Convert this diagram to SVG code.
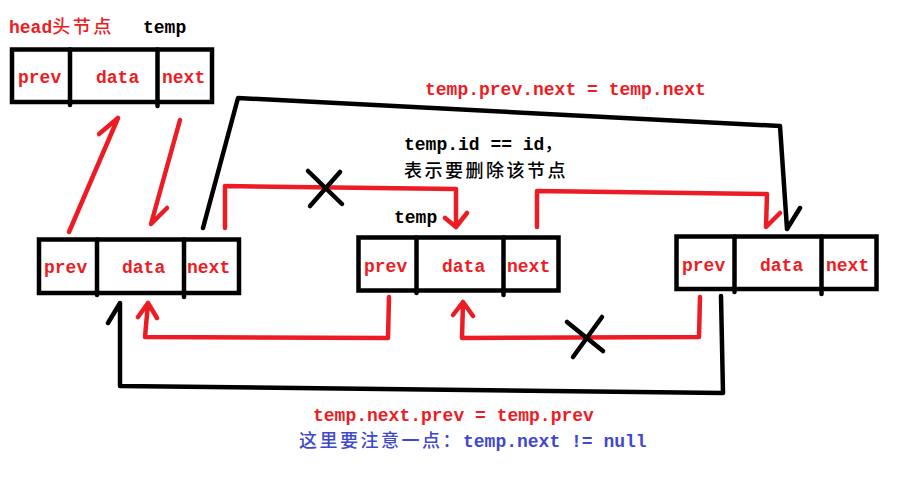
<svg xmlns="http://www.w3.org/2000/svg" width="901" height="479" viewBox="0 0 901 479">
<style>
.box{fill:#fff;stroke:#000;stroke-width:4.5}
.div{stroke:#000;stroke-width:4.5;stroke-linecap:round}
.t{font-family:"Liberation Mono","Noto Sans CJK SC",monospace;font-size:18px;font-weight:bold}
.cjk{font-family:"Noto Sans CJK SC","Liberation Mono",sans-serif;font-size:18px;font-weight:500;letter-spacing:2.5px}
.red{fill:#ed1c24}
.blk{fill:#000}
.blu{fill:#3f48cc}
.r{fill:none;stroke:#ed1c24;stroke-width:4.5;stroke-linecap:round;stroke-linejoin:round}
.k{fill:none;stroke:#000;stroke-width:4.5;stroke-linecap:round;stroke-linejoin:round}
</style>
<rect width="901" height="479" fill="#fff"/>

<g id="head-node">
<rect class="box" x="12" y="49.5" width="200" height="52.5"/>
<line class="div" x1="70" y1="49.5" x2="70" y2="105"/>
<line class="div" x1="157.5" y1="49.5" x2="157.5" y2="106"/>
<text class="t red" x="18" y="83">prev</text>
<text class="t red" x="96" y="83">data</text>
<text class="t red" x="162" y="83">next</text>
</g>

<g id="node-prev">
<rect class="box" x="39" y="239.5" width="200" height="53.5"/>
<line class="div" x1="97" y1="239.5" x2="97" y2="295"/>
<line class="div" x1="184" y1="239.5" x2="184" y2="297"/>
<text class="t red" x="44" y="273">prev</text>
<text class="t red" x="122" y="273">data</text>
<text class="t red" x="187" y="273">next</text>
</g>

<g id="node-temp">
<rect class="box" x="358.5" y="237.5" width="200" height="53"/>
<line class="div" x1="416.5" y1="237.5" x2="416.5" y2="293"/>
<line class="div" x1="503.5" y1="237.5" x2="503.5" y2="295"/>
<text class="t red" x="364" y="272">prev</text>
<text class="t red" x="442" y="272">data</text>
<text class="t red" x="507" y="272">next</text>
</g>

<g id="node-next">
<rect class="box" x="676.5" y="236.5" width="200" height="52.5"/>
<line class="div" x1="734.5" y1="236.5" x2="734.5" y2="292"/>
<line class="div" x1="821.5" y1="236.5" x2="821.5" y2="294"/>
<text class="t red" x="682" y="271">prev</text>
<text class="t red" x="760" y="271">data</text>
<text class="t red" x="826" y="271">next</text>
</g>

<g id="connectors">
<path class="r" d="M69,232 L118,118 M99,134 L118,118"/>
<path class="r" d="M180,120 L151,224 L167,208"/>
<path class="k" d="M203,228 L238,98 L780,126 L787,229 L800,208"/>
<path class="r" d="M225,228 L225,186 L456,189 L456,227 M445,218 L456,227 L467,213"/>
<path class="r" d="M537,227 L537,191 L767,194 L766,227 L780,213"/>
<path class="r" d="M389,297 L388,338 L145,337 L148,303 M138,317 L148,303 L157,318"/>
<path class="k" d="M721,296 L723,393 L120,386 L120,303 L108,323"/>
<path class="r" d="M700,297 L699,337 L462,338 L463,302 M453,315 L463,302 L473,316"/>
<path class="k" d="M308,171 L342,204 M340,172 L310,206"/>
<path class="k" d="M567,322 L603,351 M602,317 L573,357"/>
</g>

<g id="labels">
<text class="t red" x="9" y="33">head<tspan class="cjk">头节点</tspan></text>
<text class="t blk" x="143" y="33">temp</text>
<text class="t red" x="425" y="95">temp.prev.next = temp.next</text>
<text class="t blk" x="404" y="150">temp.id == id<tspan class="cjk">，</tspan></text>
<text class="cjk blk" x="404" y="177">表示要删除该节点</text>
<text class="t blk" x="394" y="223">temp</text>
<text class="t red" x="313" y="421">temp.next.prev = temp.prev</text>
<text class="t blu" x="299" y="447"><tspan class="cjk">这里要注意一点：</tspan>temp.next != null</text>
</g>
</svg>
